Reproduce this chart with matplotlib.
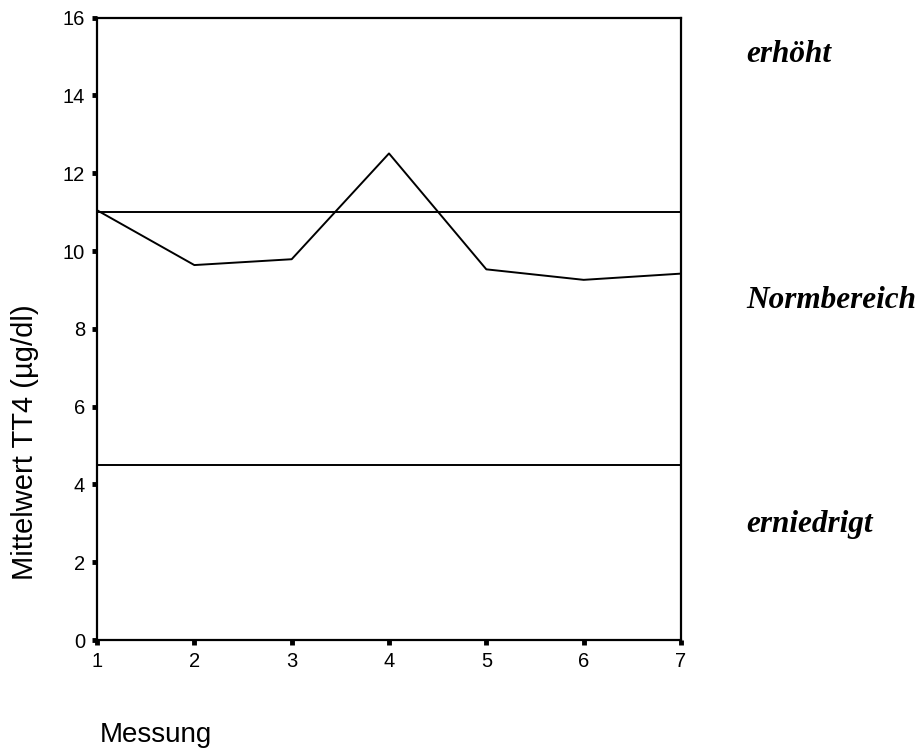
import matplotlib
matplotlib.use("Agg")
import matplotlib.pyplot as plt

# Mittelwerte TT4 je Messung
messung = [1, 2, 3, 4, 5, 6, 7]
tt4 = [11.05, 9.64, 9.79, 12.51, 9.53, 9.26, 9.42]

# Grenzen Normbereich
obere_grenze = 11.0
untere_grenze = 4.5

bereiche = ["erhöht", "Normbereich", "erniedrigt"]
bereich_y = [62, 308, 532]  # Grundlinie in Pixel von oben

W, H = 921, 751
fig = plt.figure(figsize=(W / 100, H / 100), dpi=100)
ax = fig.add_axes([97 / W, 1 - 640 / H, (681 - 97) / W, (640 - 17.7) / H])

ax.plot(messung, tt4, color="black", lw=1.4)
ax.axhline(obere_grenze, color="black", lw=1.4)
ax.axhline(untere_grenze, color="black", lw=1.4)

ax.set_xlim(1, 7)
ax.set_ylim(0, 16)
ax.set_xticks(messung)
ax.set_yticks(range(0, 17, 2))
for s in ax.spines.values():
    s.set_linewidth(1.6)
ax.tick_params(direction="out", length=3.5, width=3.5, labelsize=14.5,
               labelfontfamily="Liberation Sans", pad=5)

fig.text(25 / W, 1 - 442 / H, "Mittelwert TT4 (µg/dl)", rotation=90,
         ha="center", va="center", fontsize=21, family="Liberation Sans")
fig.text(100 / W, 1 - 742 / H, "Messung", ha="left", va="baseline",
         fontsize=20, family="Liberation Sans")

for txt, yp in zip(bereiche, bereich_y):
    fig.text(746 / W, 1 - yp / H, txt, ha="left", va="baseline",
             fontsize=22.5, family="Liberation Serif", style="italic",
             weight="bold")

fig.savefig("out.png", dpi=100)
